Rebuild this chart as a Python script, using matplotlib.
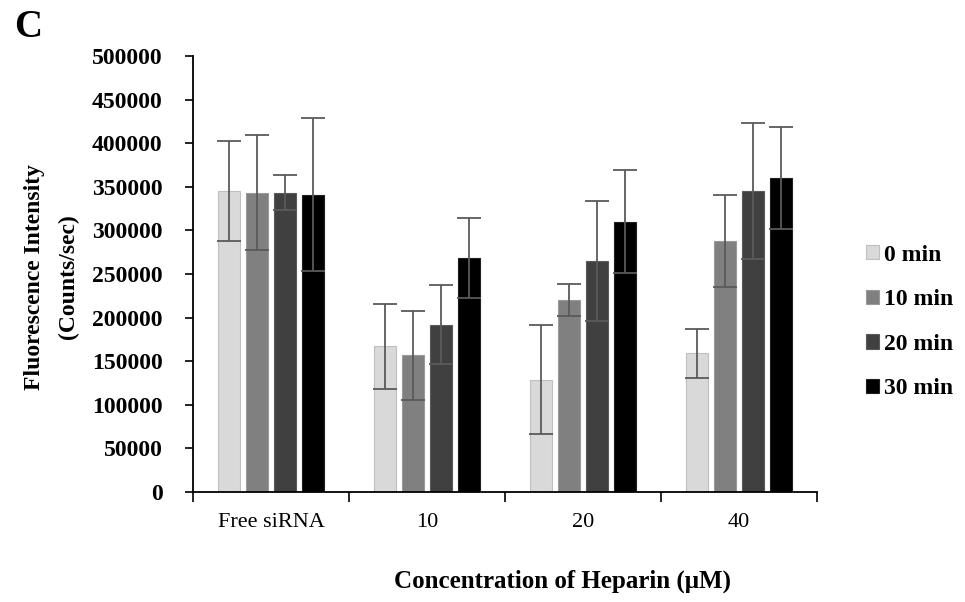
import numpy as np
import matplotlib as mpl
mpl.use('Agg')
from matplotlib import pyplot as plt

mpl.rcParams.update({'font.family': 'Liberation Serif',
                     'font.size': 16})

categories = ['Free siRNA', '10', '20', '40']
series = ['0 min', '10 min', '20 min', '30 min']
values = {
    '0 min':  [345000, 167000, 129000, 159000],
    '10 min': [343000, 157000, 220000, 288000],
    '20 min': [343000, 192000, 265000, 345000],
    '30 min': [341000, 268000, 310000, 360000],
}
errors = {
    '0 min':  [57000, 49000, 63000, 28000],
    '10 min': [66000, 51000, 18000, 53000],
    '20 min': [20000, 45000, 69000, 78000],
    '30 min': [88000, 46000, 59000, 58000],
}
colors = ['#d9d9d9', '#808080', '#404040', '#000000']
edges = ['#bfbfbf', '#9a9a9a', '#5a5a5a', '#202020']

fig = plt.figure(figsize=(9.65, 6.02), dpi=100)
ax = fig.add_axes([0.2, 0.1827, 0.6466, 0.7243])

x = np.arange(len(categories))
pitch, width = 0.18, 0.141
for i, s in enumerate(series):
    ax.bar(x + (i - 1.5) * pitch, values[s], width, yerr=errors[s],
           color=colors[i], edgecolor=edges[i], linewidth=0.8, label=s,
           error_kw=dict(ecolor='#5a5a5a', elinewidth=1.3, capsize=8.5, capthick=1.3))

ax.set_xlim(-0.5, len(categories) - 0.5)
ax.set_ylim(0, 500000)
ax.set_yticks(np.arange(0, 500001, 50000))
ax.set_yticklabels([str(v) for v in range(0, 500001, 50000)], fontweight='bold', fontsize=17)
ax.tick_params(axis='y', length=6, width=1.2, pad=16)

ax.set_xticks(x)
ax.set_xticklabels(categories, fontsize=16)
ax.tick_params(axis='x', which='major', length=0, pad=15)
ax.set_xticks(np.arange(-0.5, len(categories), 1.0), minor=True)
ax.tick_params(axis='x', which='minor', length=7, width=1.2)

for side in ['top', 'right']:
    ax.spines[side].set_visible(False)
for side in ['left', 'bottom']:
    ax.spines[side].set_linewidth(1.3)

fig.text(0.036, 0.54, 'Fluorescence Intensity', rotation=90, ha='center', va='center',
         fontsize=17, fontweight='bold')
fig.text(0.071, 0.54, '(Counts/sec)', rotation=90, ha='center', va='center',
         fontsize=17, fontweight='bold')
fig.text(0.583, 0.035, 'Concentration of Heparin (\u03bcM)', ha='center', va='center',
         fontsize=18, fontweight='bold')
fig.text(0.015, 0.955, 'C', ha='left', va='center', fontsize=28, fontweight='bold')

leg = ax.legend(loc='center left', bbox_to_anchor=(1.045, 0.39), frameon=False,
                prop={'weight': 'bold', 'size': 17}, handlelength=0.55, handleheight=0.55,
                handletextpad=0.2, labelspacing=1.0)

fig.savefig('out.png', dpi=100)
